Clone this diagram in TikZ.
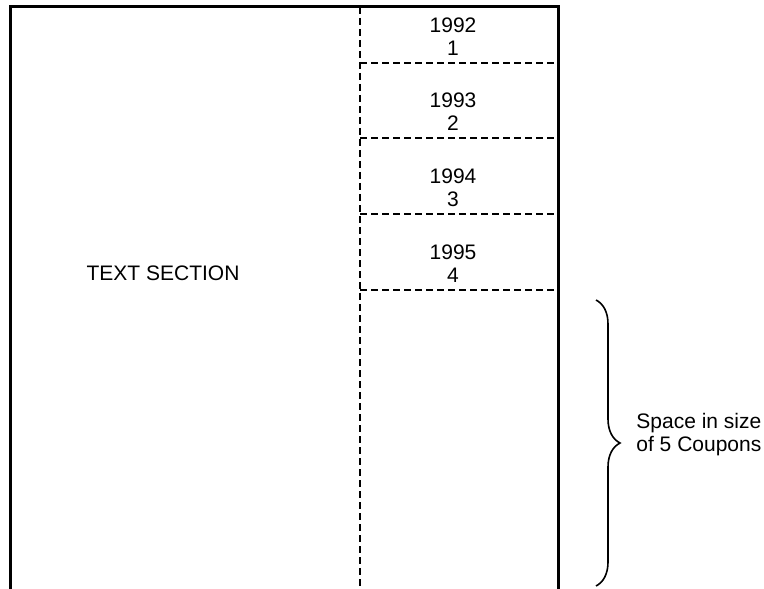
\documentclass[tikz,border=0pt]{standalone}
\usepackage{fontspec}
\setmainfont{Liberation Sans}
\usetikzlibrary{decorations.pathreplacing}

\begin{document}
\begin{tikzpicture}[x=0.5pt, y=-0.5pt,
  every node/.style={font=\fontsize{10.5}{11.5}\selectfont, inner sep=0pt},
  coupontxt/.style={align=center},
  border/.style={line width=1.5pt},
  cutline/.style={line width=1pt, dash pattern=on 3.5pt off 2pt},
  bracket/.style={line width=0.8pt, decorate, decoration={brace, amplitude=12pt}}]
  \useasboundingbox (0,0) rectangle (764,588);

  % Outer frame, open at the bottom
  \draw[border] (10,600) -- (10,7) -- (558,7) -- (558,600);

  % Text section
  \draw[cutline] (360,7) -- (360,600);
  \node (txt) at (163,273) {TEXT SECTION};

  % Coupons
  \node[coupontxt] (c1) at (453,37) {1992\\1};
  \draw[cutline] (360,63) -- (558,63);
  \node[coupontxt] (c2) at (453,112) {1993\\2};
  \draw[cutline] (360,138) -- (558,138);
  \node[coupontxt] (c3) at (453,188) {1994\\3};
  \draw[cutline] (360,214) -- (558,214);
  \node[coupontxt] (c4) at (453,264) {1995\\4};
  \draw[cutline] (360,290) -- (558,290);

  % Empty space
  \coordinate (bracetop) at (596,300);
  \coordinate (bracebot) at (596,586);
  \draw[bracket] (bracetop) -- (bracebot);
  \node[align=left, anchor=west] (space) at (636,435) {Space in size\\of 5 Coupons};
\end{tikzpicture}
\end{document}
